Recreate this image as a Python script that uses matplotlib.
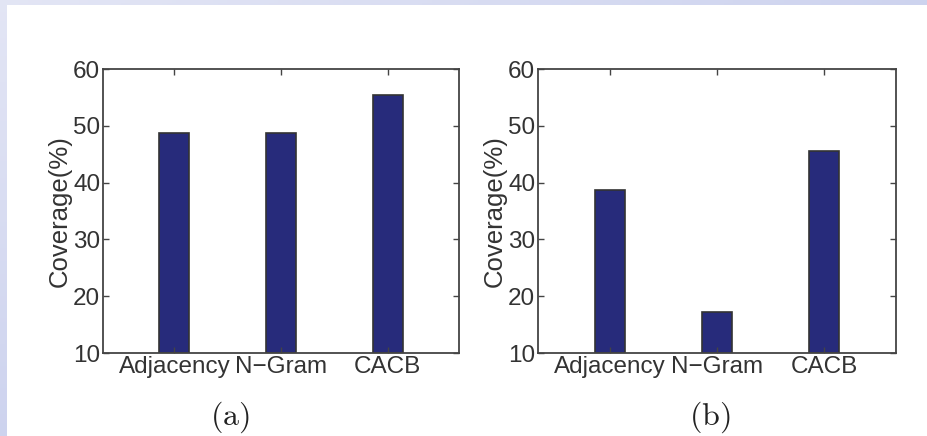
import matplotlib
matplotlib.use('Agg')
import matplotlib.pyplot as plt
import numpy as np
from matplotlib.patches import Rectangle

plt.rcParams['font.family'] = ['Liberation Sans', 'DejaVu Sans']
plt.rcParams['mathtext.fontset'] = 'cm'

methods = ['Adjacency', 'N\u2212Gram', 'CACB']
coverage_a = [48.8, 48.8, 55.4]
coverage_b = [38.7, 17.2, 45.6]
yticks = [10, 20, 30, 40, 50, 60]
panel_labels = ['(a)', '(b)']

bar_color = '#272b7b'
edge_color = '#333333'
text_color = '#333333'

fig = plt.figure(figsize=(9.28, 4.36), dpi=100)

# lavender slide frame behind the white figure area
bg = fig.add_axes([0, 0, 1, 1], zorder=-10)
gx = np.linspace(0, 1, 200)
gy = np.linspace(0, 1, 100)
GX, GY = np.meshgrid(gx, gy)
t = np.clip(0.6 * GX + 0.6 * GY, 0, 1)
c0 = np.array([0.89, 0.90, 0.96])
c1 = np.array([0.75, 0.78, 0.92])
img = c0[None, None, :] * (1 - t[..., None]) + c1[None, None, :] * t[..., None]
bg.imshow(img, extent=[0, 1, 0, 1], aspect='auto', origin='upper')
bg.add_patch(Rectangle((7 / 928, 0), 1, 1 - 5 / 436, color='white', lw=0))
bg.set_xlim(0, 1)
bg.set_ylim(0, 1)
bg.axis('off')

positions = [[103 / 928, 83 / 436, 356 / 928, 284 / 436],
             [538 / 928, 83 / 436, 358 / 928, 284 / 436]]
label_x = [230 / 928, 710 / 928]

x = np.arange(1, len(methods) + 1)
for pos, vals, lab, lx in zip(positions, [coverage_a, coverage_b], panel_labels, label_x):
    ax = fig.add_axes(pos)
    ax.bar(x, np.array(vals) - 10, bottom=10, width=0.28, color=bar_color,
           edgecolor=edge_color, linewidth=1.2)
    ax.set_xlim(0.33, 3.67)
    ax.set_ylim(10, 60)
    ax.set_yticks(yticks)
    ax.set_xticks(x)
    ax.set_xticklabels(methods)
    ax.tick_params(direction='in', top=True, right=True, length=4, width=1,
                   colors='#444444', labelcolor=text_color, labelsize=17.5, pad=2)
    for s in ax.spines.values():
        s.set_color('#444444')
        s.set_linewidth(1.3)
    ax.set_ylabel('Coverage(%)', fontsize=18.5, color=text_color, labelpad=1)
    fig.text(lx, 19 / 436, '$\\mathrm{' + lab + '}$', fontsize=23, color='#222222',
             ha='center', va='center')

fig.savefig('out.png', dpi=100)
